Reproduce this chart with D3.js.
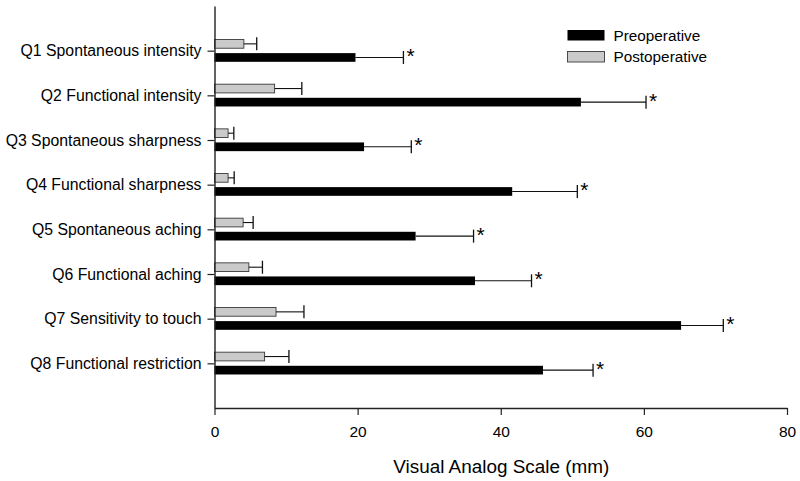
<!DOCTYPE html>
<html>
<head>
<meta charset="utf-8">
<script src="https://cdn.jsdelivr.net/npm/d3@7"></script>
<style>
  html, body { margin: 0; padding: 0; background: #fff; }
  svg { display: block; font-family: "Liberation Sans", Arial, sans-serif; }
</style>
</head>
<body>
<svg id="chart" width="800" height="481"></svg>
<script>
const categories = [
  "Q1 Spontaneous intensity",
  "Q2 Functional intensity",
  "Q3 Spontaneous sharpness",
  "Q4 Functional sharpness",
  "Q5 Spontaneous aching",
  "Q6 Functional aching",
  "Q7 Sensitivity to touch",
  "Q8 Functional restriction"
];
const preMean  = [19.7, 51.2, 20.9, 41.6, 28.1, 36.4, 65.2, 45.9];
const preErr   = [6.7, 9.1, 6.6, 9.1, 8.1, 7.9, 5.9, 7.0];
const postMean = [4.1, 8.4, 1.9, 1.9, 4.0, 4.8, 8.6, 7.0];
const postErr  = [1.8, 3.8, 0.8, 0.85, 1.4, 1.9, 3.9, 3.4];
const significant = [true, true, true, true, true, true, true, true];
const xTicks = [0, 20, 40, 60, 80];
const seriesNames = ["Preoperative", "Postoperative"];
const xTitle = "Visual Analog Scale (mm)";

const svg = d3.select("#chart");
const axisColor = "#222";
const textColor = "#000";

const x = d3.scaleLinear().domain([0, 80]).range([214.5, 787]);
const y = d3.scalePoint().domain(categories).range([6, 408]).padding(1);

const barH = 8.7;
const off = 6.8;
const capH = 13;

const data = categories.map((c, i) => ({
  c, pre: preMean[i], preE: preErr[i], post: postMean[i], postE: postErr[i], sig: significant[i]
}));

// Bars
const g = svg.append("g");
g.selectAll("rect.post").data(data).join("rect")
  .attr("class", "post")
  .attr("x", x(0))
  .attr("y", d => y(d.c) - off - barH / 2)
  .attr("width", d => x(d.post) - x(0))
  .attr("height", barH)
  .attr("fill", "#cacaca")
  .attr("stroke", "#3a3a3a")
  .attr("stroke-width", 0.9);

g.selectAll("rect.pre").data(data).join("rect")
  .attr("class", "pre")
  .attr("x", x(0))
  .attr("y", d => y(d.c) + off - barH / 2)
  .attr("width", d => x(d.pre) - x(0))
  .attr("height", barH)
  .attr("fill", "#000");

// Error bars
function errBars(cls, meanKey, errKey, dy) {
  const eg = g.selectAll("g." + cls).data(data).join("g").attr("class", cls);
  eg.append("line")
    .attr("x1", d => x(d[meanKey]))
    .attr("x2", d => x(d[meanKey] + d[errKey]))
    .attr("y1", d => y(d.c) + dy)
    .attr("y2", d => y(d.c) + dy)
    .attr("stroke", "#111").attr("stroke-width", 1.1);
  eg.append("line")
    .attr("x1", d => x(d[meanKey] + d[errKey]))
    .attr("x2", d => x(d[meanKey] + d[errKey]))
    .attr("y1", d => y(d.c) + dy - capH / 2)
    .attr("y2", d => y(d.c) + dy + capH / 2)
    .attr("stroke", "#111").attr("stroke-width", 1.3);
}
errBars("epost", "post", "postE", -off);
errBars("epre", "pre", "preE", off);

// Asterisks
g.selectAll("text.sig").data(data.filter(d => d.sig)).join("text")
  .attr("class", "sig")
  .attr("x", d => x(d.pre + d.preE) + 3)
  .attr("y", d => y(d.c) + off + 5.5)
  .attr("font-size", 21)
  .attr("fill", "#000")
  .text("*");

// Y axis
const yAxis = svg.append("g")
  .attr("transform", `translate(${x(0)},0)`)
  .call(d3.axisLeft(y).tickSize(7).tickSizeOuter(0).tickPadding(6));
yAxis.select(".domain").attr("stroke", axisColor).attr("stroke-width", 1.4);
yAxis.selectAll(".tick line").attr("stroke", axisColor).attr("stroke-width", 1.2);
yAxis.selectAll(".tick text").attr("font-size", 15.8).attr("fill", textColor)
  .attr("font-family", "Liberation Sans, Arial, sans-serif");

// X axis
const xAxis = svg.append("g")
  .attr("transform", "translate(0,408)")
  .call(d3.axisBottom(x).tickValues(xTicks).tickFormat(d3.format("d")).tickSize(7).tickSizeOuter(0).tickPadding(11));
xAxis.select(".domain").attr("stroke", axisColor).attr("stroke-width", 1.4);
xAxis.selectAll(".tick line").attr("stroke", axisColor).attr("stroke-width", 1.2);
xAxis.selectAll(".tick text").attr("font-size", 15.5).attr("fill", textColor)
  .attr("font-family", "Liberation Sans, Arial, sans-serif");

svg.append("text")
  .attr("x", (x(0) + x(80)) / 2 + 0.5)
  .attr("y", 473)
  .attr("text-anchor", "middle")
  .attr("font-size", 18.9)
  .attr("fill", textColor)
  .text(xTitle);

// Legend
const legend = svg.append("g");
const legendColors = [{ fill: "#000", stroke: "none" }, { fill: "#cacaca", stroke: "#3a3a3a" }];
const legendY = [30, 51.5];
seriesNames.forEach((name, i) => {
  legend.append("rect")
    .attr("x", 567.5).attr("y", legendY[i])
    .attr("width", 37).attr("height", 10.5)
    .attr("fill", legendColors[i].fill)
    .attr("stroke", legendColors[i].stroke)
    .attr("stroke-width", 0.9);
  legend.append("text")
    .attr("x", 613.5).attr("y", legendY[i] + 10.8)
    .attr("font-size", 15.3)
    .attr("fill", textColor)
    .text(name);
});
</script>
</body>
</html>
